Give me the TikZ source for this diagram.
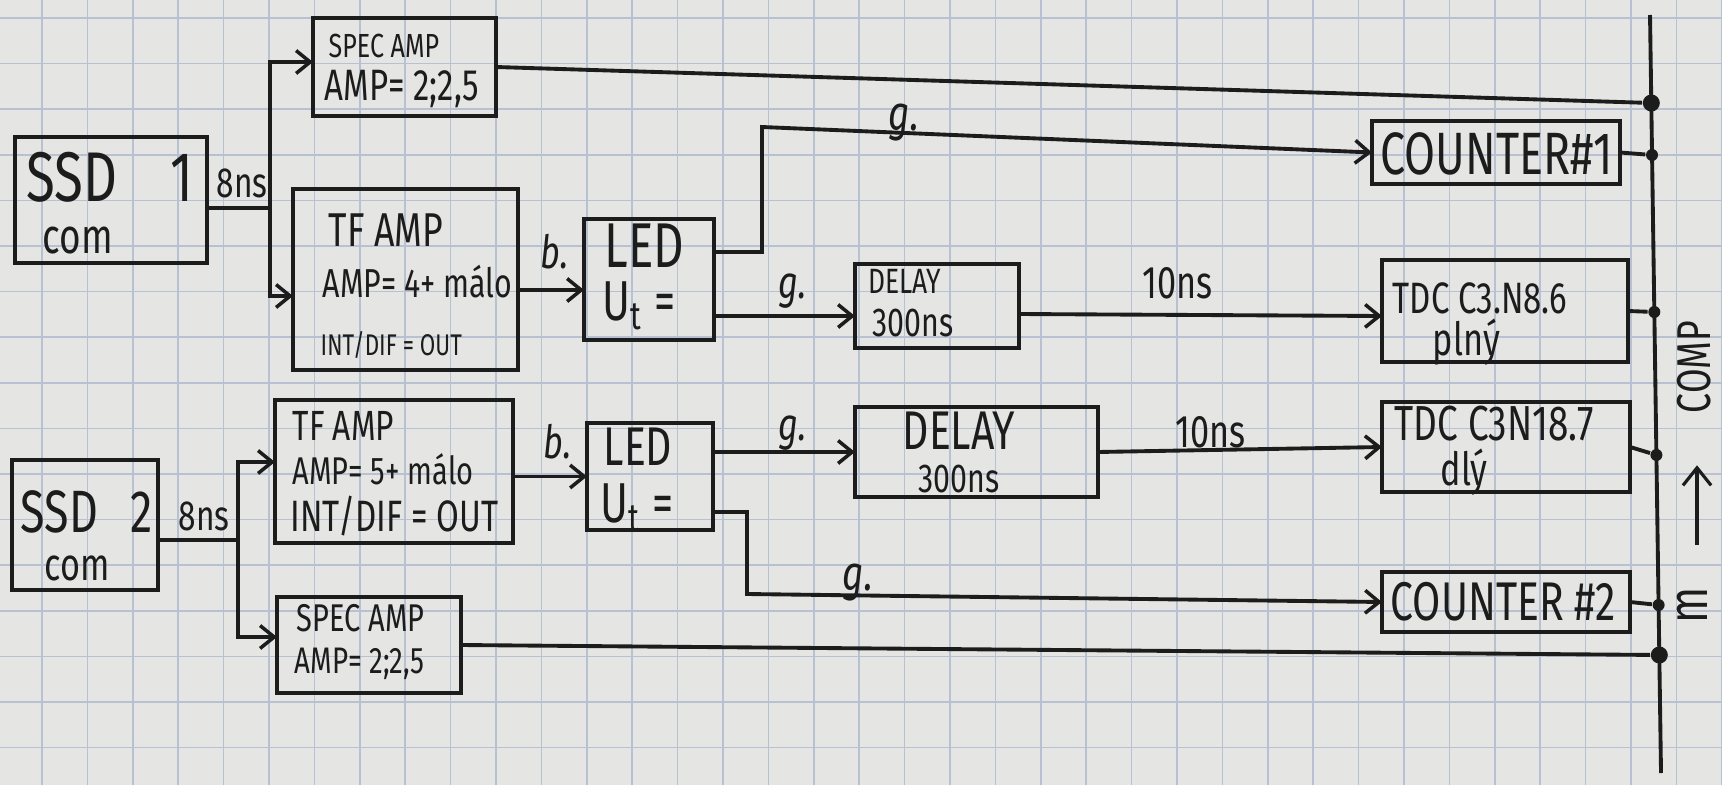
\documentclass[tikz,border=0pt]{standalone}
\usepackage{fontspec}
\usepackage{graphicx}
\setmainfont{Fira Sans}[FakeStretch=0.75]
\usetikzlibrary{arrows.meta}
\definecolor{paper}{RGB}{229,229,227}
\definecolor{gridc}{RGB}{184,193,210}
\definecolor{ink}{RGB}{28,28,28}
\newcommand\hwfs[1]{\fontsize{#1}{#1}\selectfont}
\tikzset{
 box/.style={draw=ink, line width=1.1pt, inner sep=0pt, outer sep=0pt},
 wire/.style={draw=ink, line width=1.1pt},
 arr/.style={wire, -{Straight Barb[length=4pt,width=6.5pt,line width=1pt]}},
 txt/.style={anchor=base west, inner sep=0pt, text=ink},
 dotb/.style={fill=ink, circle, inner sep=0pt, minimum size=0.17cm},
 dots/.style={fill=ink, circle, inner sep=0pt, minimum size=0.12cm},
 gridline/.style={draw=gridc, line width=0.45pt},
}
\begin{document}
\begin{tikzpicture}[x=0.01cm,y=-0.01cm]
\fill[paper] (0,0) rectangle (1722,785);
\useasboundingbox (0,0) rectangle (1722,785);
\foreach \i in {0,...,37} \draw[gridline] ({42+45.4*\i},0) -- ({42+45.4*\i},785);
\foreach \j in {0,...,16} \draw[gridline] (0,{18+45.6*\j}) -- (1722,{18+45.6*\j});

% boxes
\node[box, minimum width=1.92cm, minimum height=1.26cm] (ssd1) at (111,200) {};
\node[box, minimum width=1.83cm, minimum height=0.98cm] (spec1) at (404.5,67) {};
\node[box, minimum width=2.25cm, minimum height=1.81cm] (tf1) at (405.5,279.5) {};
\node[box, minimum width=1.30cm, minimum height=1.21cm] (led1) at (649,279.5) {};
\node[box, minimum width=1.64cm, minimum height=0.84cm] (delay1) at (937,306) {};
\node[box, minimum width=2.48cm, minimum height=0.63cm] (counter1) at (1496,152.5) {};
\node[box, minimum width=2.46cm, minimum height=1.02cm] (tdc1) at (1505,311) {};
\node[box, minimum width=1.46cm, minimum height=1.30cm] (ssd2) at (85,525) {};
\node[box, minimum width=2.38cm, minimum height=1.43cm] (tf2) at (394,471.5) {};
\node[box, minimum width=1.84cm, minimum height=0.96cm] (spec2) at (369,645) {};
\node[box, minimum width=1.26cm, minimum height=1.07cm] (led2) at (650,476.5) {};
\node[box, minimum width=2.43cm, minimum height=0.90cm] (delay2) at (976.5,452) {};
\node[box, minimum width=2.48cm, minimum height=0.90cm] (tdc2) at (1506,447) {};
\node[box, minimum width=2.48cm, minimum height=0.60cm] (counter2) at (1506,602) {};

% texts in boxes
\node[txt] (t-ssd1a) at (26,201) {\hwfs{20}SSD\hspace{0.75em}1};
\node[txt] (t-ssd1b) at (42,253) {\hwfs{14}com};
\node[txt] (t-spec1a) at (328,58) {\hwfs{9.5}SPEC AMP};
\node[txt] (t-spec1b) at (324,101) {\hwfs{12.5}AMP= 2;2,5};
\node[txt] (t-tf1a) at (328,246) {\hwfs{13.5}TF AMP};
\node[txt] (t-tf1b) at (322,297) {\hwfs{11.5}AMP= 4+ málo};
\node[txt] (t-tf1c) at (320,355) {\hwfs{8.5}INT/DIF = OUT};
\node[txt] (t-led1a) at (604,267) {\hwfs{18}LED};
\node[txt] (t-led1b) at (602,320) {\hwfs{16}U\textsubscript{t} =};
\node[txt] (t-cnt1) at (1380,175) {\hwfs{17}COUNTER\#1};
\node[txt] (t-del1a) at (868,293) {\hwfs{10}DELAY};
\node[txt] (t-del1b) at (872,336) {\hwfs{11.5}300ns};
\node[txt] (t-tdc1a) at (1392,313) {\hwfs{12.5}TDC C3.N8.6};
\node[txt] (t-tdc1b) at (1432,355) {\hwfs{13}plný};
\node[txt] (t-ssd2a) at (20,532) {\hwfs{17}SSD\hspace{0.55em}2};
\node[txt] (t-ssd2b) at (44,580) {\hwfs{13}com};
\node[txt] (t-tf2a) at (292,440) {\hwfs{12}TF AMP};
\node[txt] (t-tf2b) at (292,484) {\hwfs{11}AMP= 5+ málo};
\node[txt] (t-tf2c) at (290,531) {\hwfs{12.5}INT/DIF = OUT};
\node[txt] (t-spec2a) at (296,631) {\hwfs{11}SPEC AMP};
\node[txt] (t-spec2b) at (294,673) {\hwfs{10.5}AMP= 2;2,5};
\node[txt] (t-led2a) at (603,465) {\hwfs{15.5}LED};
\node[txt] (t-led2b) at (600,522) {\hwfs{16}U\textsubscript{t} =};
\node[txt] (t-del2a) at (902,449) {\hwfs{15.5}DELAY};
\node[txt] (t-del2b) at (918,492) {\hwfs{11.5}300ns};
\node[txt] (t-tdc2a) at (1394,440) {\hwfs{14}TDC C3N18.7};
\node[txt] (t-tdc2b) at (1440,485) {\hwfs{13}dlý};
\node[txt] (t-cnt2) at (1390,620) {\hwfs{15.5}COUNTER \#2};

% bus
\coordinate (bt) at (1650,15);
\coordinate (bb) at (1661,773);
\draw[wire] (bt) -- (bb);
\node[dotb] (b1) at (1651.3,103) {};
\node[dots] (b2) at (1652,155) {};
\node[dots] (b3) at (1654.3,312) {};
\node[dots] (b4) at (1656.4,455) {};
\node[dots] (b5) at (1658.6,605) {};
\node[dotb] (b6) at (1659.3,655) {};

% detector 1 chain
\coordinate (j1) at (270,208);
\draw[wire] ([yshift=-0.08cm]ssd1.east) -- (j1);
\draw[arr] (j1) |- ([yshift=0.05cm]spec1.west);
\draw[arr] (j1) |- ([yshift=-0.165cm]tf1.west);
\node[txt] (l-8ns1) at (216,197) {\hwfs{12}8ns};
\draw[arr] ([yshift=-0.105cm]tf1.east) -- ([yshift=-0.105cm]tf1.east -| led1.west);
\node[txt] (l-b1) at (540,268) {\hwfs{13}\itshape b.};
\coordinate (c1) at (762,127);
\draw[arr] ([yshift=0.275cm]led1.east) -| (c1) -- (counter1.west);
\node[txt] (l-g1) at (888,130) {\hwfs{14}\itshape g.};
\draw[arr] ([yshift=-0.1cm]delay1.west -| led1.east) -- ([yshift=-0.1cm]delay1.west);
\node[txt] (l-g2) at (778,298) {\hwfs{13}\itshape g.};
\draw[arr] ([yshift=-0.08cm]delay1.east) -- ([yshift=-0.05cm]tdc1.west);
\node[txt] (l-10ns1) at (1142,298) {\hwfs{13}10ns};
\draw[wire] (spec1.east) -- (b1);
\draw[wire] (counter1.east) -- (b2);
\draw[wire] (tdc1.east) -- (b3);

% detector 2 chain
\coordinate (j2) at (238,540);
\draw[wire] ([yshift=-0.15cm]ssd2.east) -- (j2);
\draw[arr] (j2) |- ([yshift=0.095cm]tf2.west);
\draw[arr] (j2) |- ([yshift=0.08cm]spec2.west);
\node[txt] (l-8ns2) at (178,530) {\hwfs{12}8ns};
\draw[arr] ([yshift=-0.05cm]tf2.east) -- ([yshift=-0.05cm]tf2.east -| led2.west);
\node[txt] (l-b2) at (543,458) {\hwfs{13}\itshape b.};
\draw[arr] (delay2.west -| led2.east) -- (delay2.west);
\node[txt] (l-g3) at (778,440) {\hwfs{13}\itshape g.};
\coordinate (c2) at (747,594);
\draw[arr] ([yshift=-0.355cm]led2.east) -| (c2) -- (counter2.west);
\node[txt] (l-g4) at (842,590) {\hwfs{14}\itshape g.};
\draw[arr] (delay2.east) -- (tdc2.west);
\node[txt] (l-10ns2) at (1175,447) {\hwfs{13}10ns};
\draw[wire] (spec2.east) -- (b6);
\draw[wire] (counter2.east) -- (b5);
\draw[wire] (tdc2.east) -- (b4);

% COMP label
\node[rotate=90, inner sep=0pt, text=ink] (l-comp) at (1694,367) {\hwfs{13.5}COMP};
\node[inner sep=0pt, minimum width=0.2cm, minimum height=0.78cm] (l-arrow) at (1697,505) {};
\draw[draw=ink, line width=0.9pt, -{Straight Barb[length=5pt,width=8pt,line width=0.9pt]}] (l-arrow.south) -- (l-arrow.north);
\node[rotate=90, inner sep=0pt, text=ink] (l-m) at (1692,605) {\hwfs{16}m};
\end{tikzpicture}
\end{document}
